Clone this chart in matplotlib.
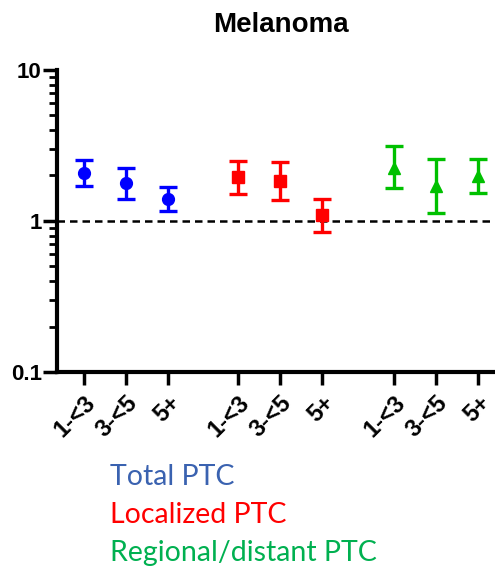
import matplotlib
matplotlib.use("Agg")
import matplotlib.pyplot as plt
from matplotlib.ticker import LogLocator, NullFormatter, FixedLocator

# data
labels = ["1-<3", "3-<5", "5+"] * 3
positions = [0, 1, 2, 3.65, 4.65, 5.65, 7.35, 8.35, 9.35]
total_est = [2.08, 1.78, 1.40]
total_lo = [1.71, 1.40, 1.16]
total_hi = [2.52, 2.24, 1.67]
local_est = [1.96, 1.84, 1.10]
local_lo = [1.51, 1.37, 0.85]
local_hi = [2.49, 2.44, 1.40]
regional_est = [2.24, 1.70, 1.97]
regional_lo = [1.65, 1.13, 1.54]
regional_hi = [3.15, 2.56, 2.56]

series = [
    (positions[0:3], total_est, total_lo, total_hi, "#0000ff", "o", 8.5),
    (positions[3:6], local_est, local_lo, local_hi, "#ff0000", "s", 8.5),
    (positions[6:9], regional_est, regional_lo, regional_hi, "#00c000", "^", 8.5),
]

fig = plt.figure(figsize=(4.95, 5.68), dpi=100)
ax = fig.add_axes([0.115, 0.345, 0.885, 0.532])

for xs, est, lo, hi, col, mk, ms in series:
    yerr = [[e - l for e, l in zip(est, lo)], [h - e for e, h in zip(est, hi)]]
    ax.errorbar(xs, est, yerr=yerr, fmt=mk, color=col, ms=ms, elinewidth=2.4,
                capsize=6.5, capthick=2.4, zorder=3)

ax.axhline(1, color="black", ls=(0, (3, 2)), lw=1.8, zorder=2)

ax.set_yscale("log")
ax.set_ylim(0.1, 10)
ax.set_xlim(-0.64, 9.75)
ax.yaxis.set_major_locator(FixedLocator([0.1, 1, 10]))
ax.yaxis.set_minor_locator(LogLocator(base=10, subs=range(2, 10)))
ax.yaxis.set_minor_formatter(NullFormatter())
ax.set_yticklabels(["0.1", "1", "10"], fontsize=16, fontweight="bold",
                   family="Liberation Sans")
ax.tick_params(axis="y", which="major", length=10, width=2.5, pad=1)
ax.tick_params(axis="y", which="minor", length=6, width=2)

ax.set_xticks(positions)
ax.set_xticklabels(labels, rotation=45, ha="right", rotation_mode="anchor",
                   fontsize=17, fontweight="bold", family="Liberation Sans")
ax.tick_params(axis="x", length=9, width=2.5, pad=5)

for s in ["top", "right"]:
    ax.spines[s].set_visible(False)
for s in ["left", "bottom"]:
    ax.spines[s].set_linewidth(3)

fig.text(0.568, 1 - 25 / 568, "Melanoma", fontsize=20, fontweight="bold",
         family="Liberation Sans", ha="center", va="center")

legend = [("Total PTC", "#3a62b0"), ("Localized PTC", "#ff0000"),
          ("Regional/distant PTC", "#00b050")]
for i, (txt, col) in enumerate(legend):
    fig.text(0.222, 1 - (477 + 38 * i) / 568, txt, color=col, fontsize=20.5,
             family="Lato", va="center", ha="left")

fig.savefig("out.png", dpi=100, facecolor="white")
